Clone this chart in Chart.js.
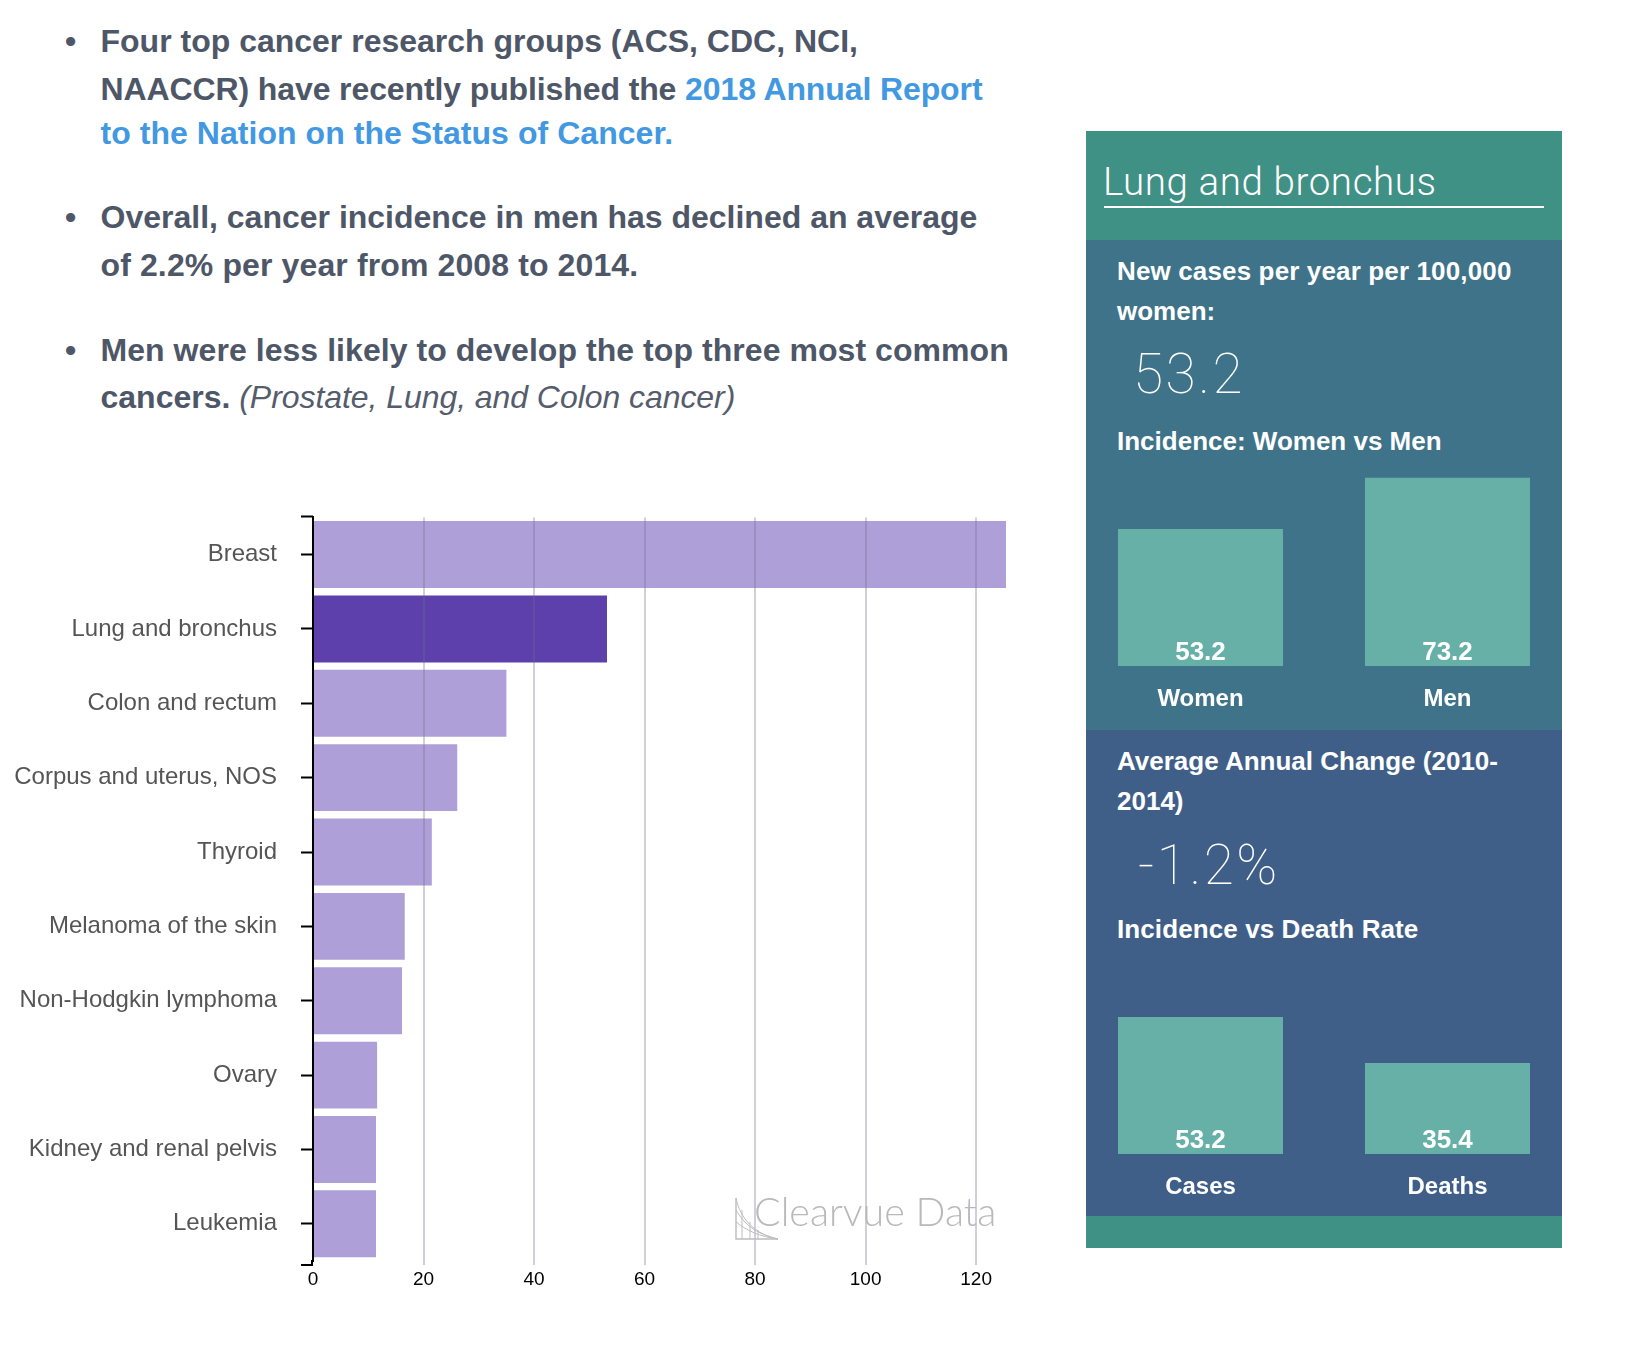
<!DOCTYPE html>
<html>
<head>
<meta charset="utf-8">
<title>Lung and bronchus</title>
<script src="https://cdn.jsdelivr.net/npm/chart.js@4"></script>
<style>
  html, body { margin: 0; padding: 0; background: #fff; }
  body { position: relative; width: 1646px; height: 1346px; overflow: hidden; font-family: "Liberation Sans", sans-serif; }
  canvas { position: absolute; }
  .line { position: absolute; white-space: nowrap; transform: translateY(-50%); }

  /* left column text */
  .bullet { left: 100.5px; font-size: 32px; font-weight: 700; color: #4e5767; }
  .dot { left: 65px; font-size: 32px; font-weight: 700; color: #4e5767; }
  .bullet a { color: #4299e1; text-decoration: none; }
  .bullet em { font-weight: 400; font-size: 32px; letter-spacing: -0.06px; color: #555c6b; }

  /* side panel */
  .block { position: absolute; left: 1086px; width: 476px; }
  .panel-text { left: 1117px; font-size: 26px; font-weight: 700; color: #fff; }
  .big-number { font-family: Roboto, sans-serif; font-weight: 100; font-size: 55px; letter-spacing: 2.5px; color: #fff; }
  .panel-title { left: 1103px; top: 181px; font-family: Roboto, sans-serif; font-weight: 300; font-size: 38.5px; letter-spacing: 0.6px; color: #fff; }
  .rule { position: absolute; left: 1104px; top: 206px; width: 440px; height: 2px; background: #fff; }

  /* watermark */
  .watermark { left: 754px; top: 1210px; font-family: Lato, sans-serif; font-weight: 300; font-size: 39.4px; color: #b9b9b9; }
  .logo { position: absolute; left: 734px; top: 1196px; }
</style>
</head>
<body>

<!-- bullets -->
<div class="line dot" style="top:41px">•</div>
<div class="line bullet" style="top:41px">Four top cancer research groups (ACS, CDC, NCI,</div>
<div class="line bullet" style="top:89px;letter-spacing:-0.11px">NAACCR) have recently published the <a>2018 Annual Report</a></div>
<div class="line bullet" style="top:133px;letter-spacing:0.05px"><a>to the Nation on the Status of Cancer.</a></div>
<div class="line dot" style="top:217px">•</div>
<div class="line bullet" style="top:217px">Overall, cancer incidence in men has declined an average</div>
<div class="line bullet" style="top:265px;letter-spacing:0.12px">of 2.2% per year from 2008 to 2014.</div>
<div class="line dot" style="top:350px">•</div>
<div class="line bullet" style="top:350px;letter-spacing:0.055px">Men were less likely to develop the top three most common</div>
<div class="line bullet" style="top:397px">cancers. <em>(Prostate, Lung, and Colon cancer)</em></div>

<!-- main chart -->
<canvas id="incidenceChart" width="1060" height="822" style="left:0;top:479px"></canvas>
<div class="line watermark">Clearvue Data</div>
<svg class="logo" width="46" height="46" viewBox="0 0 46 46" fill="none" stroke="#bdbdbd" stroke-width="1">
  <path d="M2 2V43H44" stroke-width="1.4"/>
  <path d="M2 2C6 22 20 38 44 43M2 14C10 28 22 38 44 43M2 26C12 34 26 41 44 43M8 14V43M16 26V43M24 34V43"/>
</svg>

<!-- side panel -->
<div class="block" style="top:131px;height:109px;background:#3f9085"></div>
<div class="block" style="top:240px;height:490px;background:#3e7389"></div>
<div class="block" style="top:730px;height:486px;background:#3f5f88"></div>
<div class="block" style="top:1216px;height:32px;background:#3f9085"></div>

<div class="line panel-title">Lung and bronchus</div>
<div class="rule"></div>

<div class="line panel-text" style="top:271px;letter-spacing:0.14px">New cases per year per 100,000</div>
<div class="line panel-text" style="top:311px">women:</div>
<div class="line big-number" style="left:1133px;top:374px">53.2</div>
<div class="line panel-text" style="top:441px">Incidence: Women vs Men</div>
<canvas id="womenMenChart" width="494" height="260" style="left:1077px;top:466px"></canvas>

<div class="line panel-text" style="top:761px">Average Annual Change (2010-</div>
<div class="line panel-text" style="top:801px">2014)</div>
<div class="line big-number" style="left:1138px;top:865px">-1.2%</div>
<div class="line panel-text" style="top:929px;letter-spacing:0.1px">Incidence vs Death Rate</div>
<canvas id="casesDeathsChart" width="494" height="260" style="left:1077px;top:954px"></canvas>

<script>
/* ---------- DATA ---------- */
const cancerSites = ['Breast', 'Lung and bronchus', 'Colon and rectum', 'Corpus and uterus, NOS', 'Thyroid',
  'Melanoma of the skin', 'Non-Hodgkin lymphoma', 'Ovary', 'Kidney and renal pelvis', 'Leukemia'];
const cancerRates = [125.4, 53.2, 35, 26.1, 21.5, 16.6, 16.1, 11.6, 11.4, 11.4];
const highlightedSite = 'Lung and bronchus';
const rateTicks = [0, 20, 40, 60, 80, 100, 120];

const genderLabels = ['Women', 'Men'];
const genderValues = [53.2, 73.2];
const outcomeLabels = ['Cases', 'Deaths'];
const outcomeValues = [53.2, 35.4];

/* ---------- MAIN CHART ---------- */
const axisOverrun = 4; // the axis runs a little past the last band

// d3 style end ticks at both ends of the category axis
const axisEndTicks = {
  id: 'axisEndTicks',
  afterDraw(chart) {
    const { ctx, scales: { y } } = chart;
    const top = y.top - 1;
    const bottom = y.bottom + axisOverrun;
    ctx.save();
    ctx.strokeStyle = '#000';
    ctx.lineWidth = 2;
    ctx.beginPath();
    ctx.moveTo(y.right - 12, top);
    ctx.lineTo(y.right, top);
    ctx.moveTo(y.right - 12, bottom);
    ctx.lineTo(y.right, bottom);
    ctx.moveTo(y.right - 1, y.bottom - 1);
    ctx.lineTo(y.right - 1, bottom);
    ctx.stroke();
    ctx.restore();
  }
};

const gridColor = 'rgba(110,110,140,0.32)';

new Chart(document.getElementById('incidenceChart'), {
  type: 'bar',
  data: {
    labels: cancerSites,
    datasets: [{
      data: cancerRates,
      backgroundColor: cancerSites.map(s => s === highlightedSite ? '#5e40ac' : '#af9fd9'),
      barPercentage: 0.9,
      categoryPercentage: 1
    }]
  },
  options: {
    indexAxis: 'y',
    responsive: false,
    animation: false,
    devicePixelRatio: 1,
    layout: { padding: { top: 15, right: 54, left: 0, bottom: 0 } },
    plugins: { legend: { display: false }, tooltip: { enabled: false } },
    scales: {
      x: {
        min: 0,
        max: cancerRates[0],
        afterBuildTicks: scale => { scale.ticks = rateTicks.map(value => ({ value })); },
        afterFit: scale => { scale.height = 40; },
        border: { display: false },
        grid: {
          z: 1,
          tickLength: axisOverrun,
          lineWidth: 2,
          color: c => c.tick.value === 0 ? 'transparent' : gridColor,
          tickColor: c => c.tick.value === 0 ? 'transparent' : gridColor
        },
        ticks: { color: '#000', padding: 3, font: { family: 'Liberation Sans', size: 19 }, maxRotation: 0 }
      },
      y: {
        afterFit: scale => { scale.width = 313; },
        border: { color: '#000', width: 2, z: 2 },
        grid: { offset: false, drawOnChartArea: false, tickLength: 12, tickColor: '#000', tickWidth: 2 },
        ticks: { color: '#555', padding: 24, autoSkip: false, font: { family: 'Liberation Sans', size: 24 } }
      }
    }
  },
  plugins: [axisEndTicks]
});

/* ---------- SIDE PANEL CHARTS ---------- */
const barValueLabels = {
  id: 'barValueLabels',
  afterDatasetsDraw(chart) {
    const { ctx } = chart;
    const values = chart.data.datasets[0].data;
    ctx.save();
    ctx.fillStyle = '#fff';
    ctx.font = 'bold 26px "Liberation Sans"';
    ctx.textAlign = 'center';
    ctx.textBaseline = 'middle';
    chart.getDatasetMeta(0).data.forEach((bar, i) => {
      ctx.fillText(values[i].toFixed(1), bar.x, bar.base - 13);
    });
    ctx.restore();
  }
};

function drawPairChart(id, labels, values) {
  new Chart(document.getElementById(id), {
    type: 'bar',
    data: {
      labels,
      datasets: [{ data: values, backgroundColor: '#66b0a8', barPercentage: 0.668, categoryPercentage: 1 }]
    },
    options: {
      responsive: false,
      animation: false,
      devicePixelRatio: 1,
      layout: { padding: { top: 7, left: 0, right: 0, bottom: 0 } },
      plugins: { legend: { display: false }, tooltip: { enabled: false } },
      scales: {
        y: { display: false, min: 0, max: 75 },
        x: {
          afterFit: scale => { scale.height = 60; },
          border: { display: false },
          grid: { display: false },
          ticks: { color: '#fff', padding: 11, font: { family: 'Liberation Sans', size: 24, weight: 'bold' } }
        }
      }
    },
    plugins: [barValueLabels]
  });
}

drawPairChart('womenMenChart', genderLabels, genderValues);
drawPairChart('casesDeathsChart', outcomeLabels, outcomeValues);
</script>
</body>
</html>
